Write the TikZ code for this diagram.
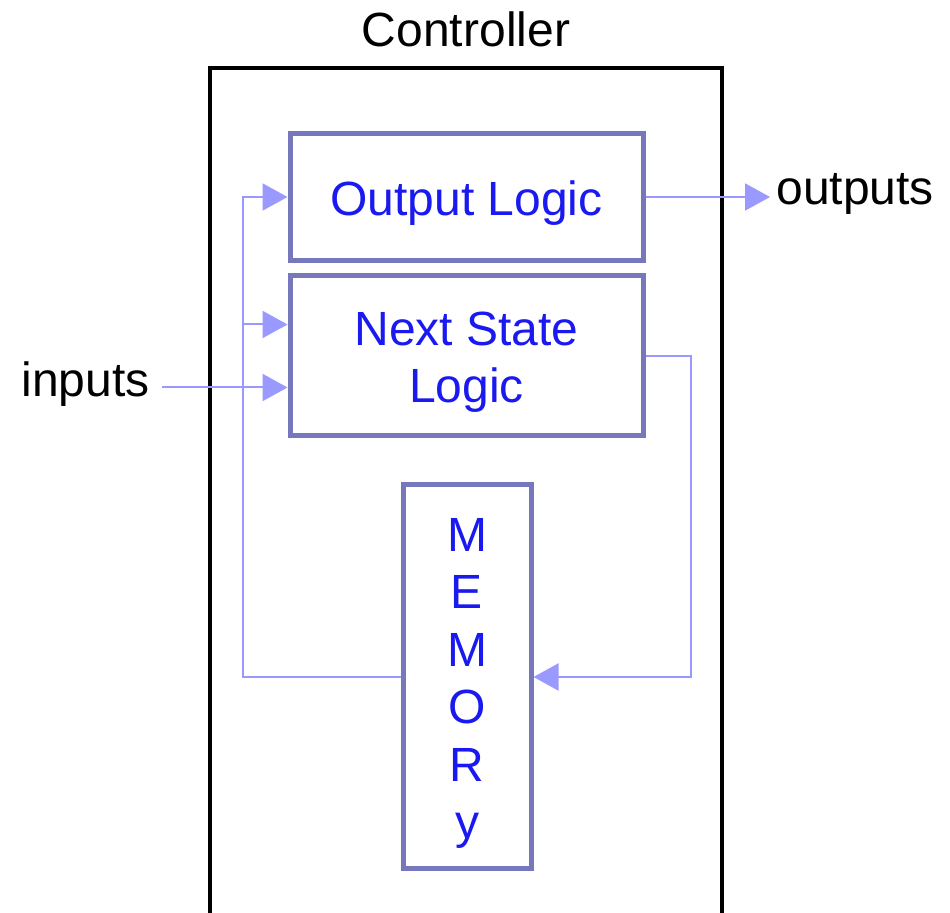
\documentclass[tikz,border=0pt]{standalone}
\usepackage{fontspec}
\setmainfont{Liberation Sans}
\usepackage{xcolor}
\usepackage{tikz}
\usetikzlibrary{arrows.meta, positioning, calc}

\definecolor{boxline}{RGB}{119,119,187}
\definecolor{wire}{RGB}{153,153,255}
\definecolor{logictext}{RGB}{25,25,240}

% taller first line, pushes block text down a little
\newcommand{\firstline}{\rule{0pt}{23pt}}

\tikzset{
  logicbox/.style={draw=boxline, line width=2.5pt, fill=white, align=center,
    text=logictext, font=\fontsize{24}{28.75}\selectfont},
  flow/.style={draw=wire, line width=1pt,
    -{Triangle[length=12.5pt,width=13.5pt]}},
  plainlabel/.style={font=\fontsize{24}{28.75}\selectfont}
}

\begin{document}
\begin{tikzpicture}[x=0.5pt, y=-0.5pt]
      \useasboundingbox (0,0) rectangle (950,913);

      % controller frame, runs off the bottom
      \draw[line width=2pt] (210,913) -- (210,68) -- (722,68) -- (722,913);
      \node[plainlabel, anchor=base] (ctrl) at (466,47) {Controller};

      % logic blocks
      \node[logicbox, minimum width=176.5pt, minimum height=63.5pt] at (466.5,197) (outlog) {\firstline Output Logic};
      \node[logicbox, minimum width=176.5pt, minimum height=80pt] at (466.5,356) (nslog) {\firstline Next State\\Logic};
      \node[logicbox, minimum width=64pt, minimum height=192pt] at (467,677) (mem) {\firstline M\\E\\M\\O\\R\\y};

      % wiring points
      \coordinate (busBot) at (243,677);
      \coordinate (nsTop) at ($(nslog.west)+(0,-31.5)$);
      \coordinate (nsBot) at ($(nslog.west)+(0,31.5)$);
      \coordinate (loopR) at (691,356);

      \node[plainlabel, anchor=base east, inner xsep=6pt] (inputs) at (162,397) {inputs};
      \node[plainlabel, anchor=base west, inner xsep=3pt] (outputs) at (770,205) {outputs};

      % state feedback to both blocks
      \draw[flow] (mem.west) -- (busBot) |- (outlog.west);
      \draw[flow] (busBot |- nsTop) -- (nsTop);
      \draw[flow] (inputs.east |- nsBot) -- (nsBot);

      % next state into memory
      \draw[flow] (nslog.east) -- (loopR) |- (mem.east);

      % outputs
      \draw[flow] (outlog.east) -- (outputs.west |- outlog.east);
\end{tikzpicture}
\end{document}
